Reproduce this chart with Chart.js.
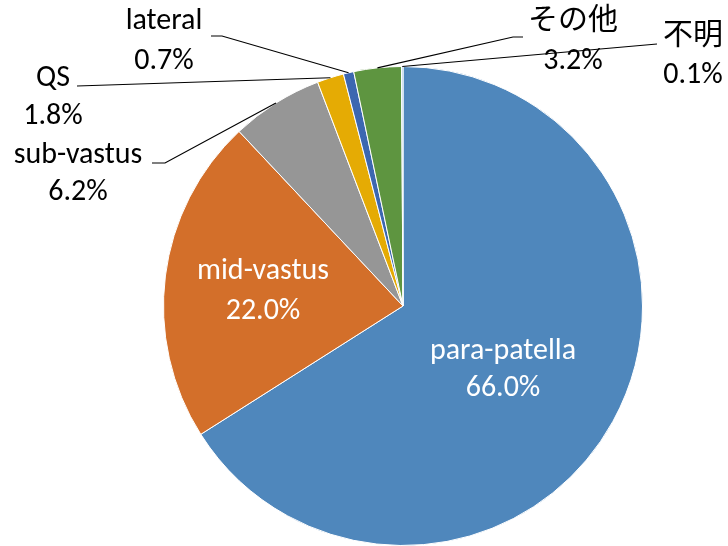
<!DOCTYPE html>
<html><head><meta charset="utf-8">
<script src="https://cdn.jsdelivr.net/npm/chart.js@4/dist/chart.umd.min.js"></script>
<style>html,body{margin:0;padding:0;background:#fff;overflow:hidden}#wrap{width:728px;height:546px}</style>
</head><body><div id="wrap"><canvas id="c" width="728" height="546"></canvas></div>
<script>
const categories = ['para-patella','mid-vastus','sub-vastus','QS','lateral','その他','不明'];
const values = [66.0, 22.0, 6.2, 1.8, 0.7, 3.2, 0.1];
const colors = ['#4F87BC','#D36F2A','#969696','#E5AB04','#3C67B0','#5E9540','#9DC3E6'];

// label layout: inside (white) or outside with elbow
const labelLayout = [
  {inside:true, x:503, y:351, y2:388},
  {inside:true, x:263, y:271, y2:311},
  {x:78, y:155, y2:192, line:[[152,163],[165,163]]},
  {x:53, y:78, y2:116, line:[[77,86]]},
  {x:164, y:21, y2:61, line:[[211,36],[222,36]]},
  {x:573, y:21, y2:61, line:[[523,37],[513,37]]},
  {x:693, y:36, y2:75, line:[[657,44]]}
];
const FONT = '30px Carlito, Lato, "Noto Sans CJK JP", sans-serif';
const labelPlugin = {
  id:'labels',
  afterDatasetsDraw(chart){
    const ctx = chart.ctx;
    const meta = chart.getDatasetMeta(0);
    ctx.save();
    meta.data.forEach((arc,i)=>{
      const L = labelLayout[i];
      const p = arc.getProps(['x','y','startAngle','endAngle','outerRadius'],true);
      const mid = (p.startAngle+p.endAngle)/2;
      const ex = p.x + Math.cos(mid)*p.outerRadius;
      const ey = p.y + Math.sin(mid)*p.outerRadius;
      const pct = values[i].toFixed(1)+'%';
      ctx.font = FONT;
      ctx.textAlign='center'; ctx.textBaseline='middle';
      if(L.inside){
        ctx.fillStyle='#fff';
      } else {
        ctx.strokeStyle='#000'; ctx.lineWidth=1.2;
        ctx.beginPath();
        ctx.moveTo(L.line[0][0], L.line[0][1]);
        for(let k=1;k<L.line.length;k++) ctx.lineTo(L.line[k][0], L.line[k][1]);
        ctx.lineTo(ex, ey);
        ctx.stroke();
        ctx.fillStyle='#000';
      }
      ctx.fillText(categories[i], L.x, L.y);
      ctx.fillText(pct, L.x, L.y2);
    });
    ctx.restore();
  }
};
new Chart(document.getElementById('c'), {
  type:'pie',
  data:{labels:categories, datasets:[{data:values, backgroundColor:colors, borderColor:'#fff', borderWidth:1}]},
  options:{
    responsive:false, animation:false,
    layout:{padding:{left:163,right:85,top:66,bottom:0}},
    plugins:{legend:{display:false}, tooltip:{enabled:false}}
  },
  plugins:[labelPlugin]
});
</script></body></html>
